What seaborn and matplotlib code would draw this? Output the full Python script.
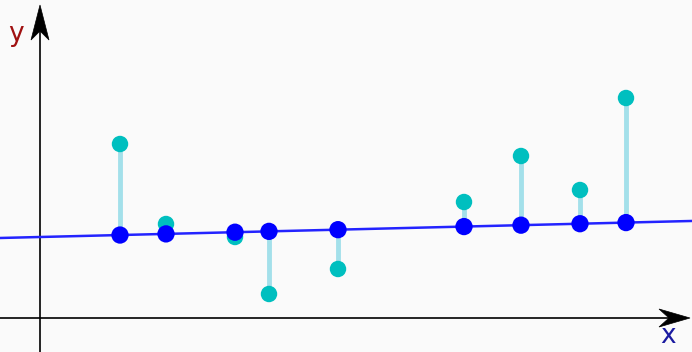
import numpy as np
import pandas as pd
import matplotlib
matplotlib.use("Agg")
import matplotlib.pyplot as plt
import seaborn as sns
from matplotlib.patches import Polygon

# data
x_vals = [1.6, 2.52, 3.9, 4.58, 5.96, 8.48, 9.62, 10.8, 11.72]
y_obs = [3.48, 1.88, 1.62, 0.48, 0.98, 2.32, 3.24, 2.56, 4.4]
intercept = 1.62
slope = 0.0246

x_arr = np.array(x_vals)
y_fit = intercept + slope * x_arr
df = pd.DataFrame({"x": x_vals, "obs": y_obs, "fit": y_fit})

sns.set_theme(style="white")
bg = "#fafafa"
fig = plt.figure(figsize=(6.92, 3.52), dpi=100, facecolor=bg)
ax = fig.add_axes([0, 0, 1, 1])
ax.set_facecolor(bg)
xmin, xmax, ymin, ymax = -0.8, 13.04, -0.68, 6.36
ax.set_xlim(xmin, xmax)
ax.set_ylim(ymin, ymax)
ax.axis("off")

# axes lines
ax.plot([xmin, xmax - 0.2], [0, 0], color="black", lw=1.2, zorder=1)
ax.plot([0, 0], [ymin, ymax - 0.3], color="black", lw=1.2, zorder=1)

fig.canvas.draw()

def arrow_head(xt, yt, direction, L, W, n):
    if direction == "right":
        pts = [(0, 0), (-L, W), (-L + n, 0), (-L, -W)]
    else:
        pts = [(0, 0), (W, -L), (0, -L + n), (-W, -L)]
    base = ax.transData.transform((xt, yt))
    verts = [base + np.array([px, py]) for px, py in pts]
    verts = ax.transData.inverted().transform(verts)
    ax.add_patch(Polygon(verts, closed=True, facecolor="black",
                         edgecolor="black", lw=0.5, zorder=2))

arrow_head(xmax - 0.04, 0, "right", 31, 9, 10)
arrow_head(0, ymax - 0.1, "up", 35, 9, 9)

# regression line
xl = np.array([xmin, xmax])
ax.plot(xl, intercept + slope * xl, color="#2323ff", lw=1.8, zorder=3)

# residual segments
ax.vlines(df["x"], df["fit"], df["obs"], color="#a3e0ea", lw=3.5, zorder=2)

sns.scatterplot(data=df, x="x", y="obs", ax=ax, color="#00bfbf", s=140,
                edgecolor="none", zorder=4, legend=False)
sns.scatterplot(data=df, x="x", y="fit", ax=ax, color="#0000ff", s=155,
                edgecolor="none", zorder=5, legend=False)
ax.set_xlabel("")
ax.set_ylabel("")
ax.axis("off")

fig.text(16 / 692, 1 - 34 / 352, "y", color="#a01010", fontsize=19,
         ha="center", va="center", family="DejaVu Sans")
fig.text(668 / 692, 1 - 336 / 352, "x", color="#1a1aa0", fontsize=19,
         ha="center", va="center", family="DejaVu Sans")

fig.savefig("out.png", dpi=100, facecolor=bg)
